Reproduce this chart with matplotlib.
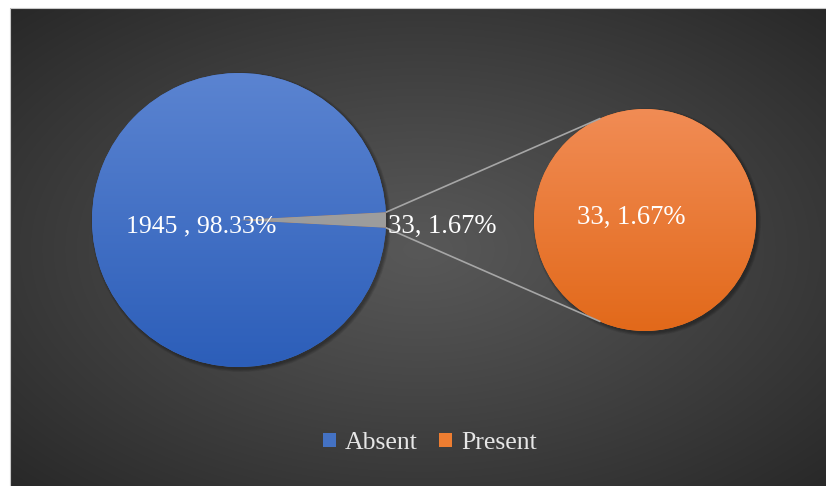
import numpy as np
import matplotlib.pyplot as plt
from matplotlib.colors import LinearSegmentedColormap
from matplotlib.patches import Rectangle, Circle

# data
categories = ['Absent', 'Present']
counts = [1945, 33]
second_counts = [33]
colors = ['#4472c4', '#ed7d31']
main_grad = [('#2c5eb9', '#5b84d1'), ('#8a8a8a', '#b0b0b0')]
second_grad = ('#e2691a', '#f18c55')

total = sum(counts)
percents = [100 * c / total for c in counts]

plt.rcParams['font.family'] = ['Liberation Serif', 'DejaVu Serif']

W, H = 826, 486
fig = plt.figure(figsize=(W / 100, H / 100), dpi=100, facecolor='white')
ax = fig.add_axes([0, 0, 1, 1])

# dark radial background
bx0, bx1, by0, by1 = 10, W + 5, -5, H - 9
gx, gy = np.meshgrid(np.linspace(-1, 1, 600), np.linspace(-1, 1, 360))
rr = np.clip(np.sqrt(gx ** 2 + gy ** 2) / np.sqrt(2), 0, 1)
c_in = np.array([0x58, 0x58, 0x58]) / 255
c_out = np.array([0x28, 0x28, 0x28]) / 255
bg = c_in + (c_out - c_in) * rr[..., None] ** 1.1
ax.imshow(bg, extent=[bx0, bx1, by0, by1], origin='lower', interpolation='bilinear', zorder=0)
ax.add_patch(Rectangle((bx0 - 0.5, by0), bx1 - bx0 + 5, by1 - by0 + 0.5,
                       fill=False, edgecolor='#c8c8c8', lw=0.8, zorder=0.5))

# pie geometry
c1, r1 = (239, 266), 147
c2, r2 = (645, 266), 111


def shadow(center, r):
    for k in range(6):
        ax.add_patch(Circle((center[0] + 2, center[1] - 2), r + 0.6 * k,
                            facecolor='black', edgecolor='none', alpha=0.06, zorder=1))


def grad_fill(wedge, center, r, bottom, top):
    cmap = LinearSegmentedColormap.from_list('g', [bottom, top])
    im = ax.imshow(np.linspace(0, 1, 256).reshape(-1, 1), cmap=cmap, origin='lower',
                   extent=[center[0] - r, center[0] + r, center[1] - r, center[1] + r],
                   aspect='auto', zorder=2.5)
    im.set_clip_path(wedge)


shadow(c1, r1)
shadow(c2, r2)

wedges1, _ = ax.pie(counts, colors=colors, startangle=3, center=c1, radius=r1,
                    wedgeprops=dict(linewidth=0))
for w, (b, t) in zip(wedges1, main_grad):
    w.set_zorder(2)
    grad_fill(w, c1, r1, b, t)

wedges2, _ = ax.pie(second_counts, colors=[colors[1]], center=c2, radius=r2,
                    wedgeprops=dict(linewidth=0))
for w in wedges2:
    w.set_zorder(2)
    grad_fill(w, c2, r2, *second_grad)

# connector lines from the small wedge to the tangent points of the second pie
w = wedges1[1]
for ang, upper in ((w.theta1, False), (w.theta2, True)):
    p = np.array(c1) + r1 * np.array([np.cos(np.radians(ang)), np.sin(np.radians(ang))])
    d = p - np.array(c2)
    phi = np.arctan2(d[1], d[0])
    alpha = np.arccos(r2 / np.hypot(*d))
    pts = [np.array(c2) + r2 * np.array([np.cos(phi + s * alpha), np.sin(phi + s * alpha)])
           for s in (1, -1)]
    pts.sort(key=lambda t: t[1])
    q = pts[1] if upper else pts[0]
    ax.plot([p[0], q[0]], [p[1], q[1]], color='#a6a6a6', lw=1.2, zorder=3, solid_capstyle='butt')

# labels
fs = 18.5
ax.text(c1[0] - 0.26 * r1, 254, f'{counts[0]} , {percents[0]:.2f}%', color='white',
        fontsize=fs, ha='center', va='baseline', zorder=4)
ax.text(c1[0] + r1 + 2, 253, f'{counts[1]}, {percents[1]:.2f}%', color='white',
        fontsize=19.2, ha='left', va='baseline', zorder=4)
ax.text(c2[0] - 14, 262, f'{second_counts[0]}, {percents[1]:.2f}%', color='white',
        fontsize=19.2, ha='center', va='baseline', zorder=4)

leg = ax.legend(wedges1, categories, loc='center', bbox_to_anchor=(430, 43),
                bbox_transform=ax.transData, ncol=2, frameon=False, fontsize=fs,
                handlelength=0.5, handleheight=0.5, handletextpad=0.35,
                columnspacing=0.85, labelcolor='#e6e6e6')
for h, c in zip(leg.legend_handles, colors):
    h.set_facecolor(c)

ax.set_xlim(0, W)
ax.set_ylim(0, H)
ax.set_aspect('auto')
ax.axis('off')

fig.savefig('out.png', dpi=100, facecolor='white')
